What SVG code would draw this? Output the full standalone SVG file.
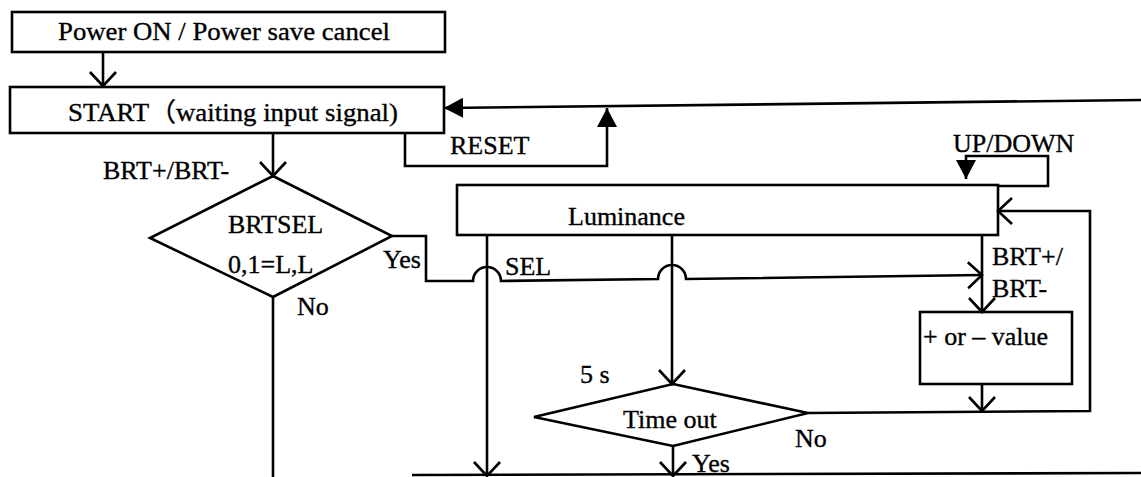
<svg xmlns="http://www.w3.org/2000/svg" width="1141" height="477" viewBox="0 0 1141 477">
<style>
.box{fill:none;stroke:#000;stroke-width:2.6}
.ln{fill:none;stroke:#000;stroke-width:2.6}
.t{font-family:"Liberation Serif","Noto Sans CJK SC",serif;font-size:26px;fill:#000;stroke:#000;stroke-width:0.35}
</style>
<defs>
<marker id="open" markerUnits="userSpaceOnUse" markerWidth="34" markerHeight="34" viewBox="-17 -17 34 34" refX="0" refY="0" orient="auto" overflow="visible">
<path d="M-14,-13 L0,0 L-14,13" fill="none" stroke="#000" stroke-width="2.6"/>
</marker>
<marker id="tri" markerUnits="userSpaceOnUse" markerWidth="30" markerHeight="30" viewBox="-20 -15 30 30" refX="0" refY="0" orient="auto" overflow="visible">
<path d="M-19,-10 L0,0 L-19,10 Z" fill="#000"/>
</marker>
</defs>
<rect width="1141" height="477" fill="#fff"/>
<g id="power">
<rect class="box" x="12" y="12" width="433" height="40"/>
<text class="t" x="58" y="40" textLength="332" lengthAdjust="spacingAndGlyphs">Power ON / Power save cancel</text>
</g>
<g id="start">
<rect class="box" x="10" y="87" width="434" height="46"/>
<text class="t" x="68" y="121" textLength="330" lengthAdjust="spacingAndGlyphs">START（waiting input signal)</text>
</g>
<g id="brtsel">
<polygon class="box" points="273,176 392,236 273,297 150,238"/>
<text class="t" x="228" y="233">BRTSEL</text>
<text class="t" x="228" y="273">0,1=L,L</text>
</g>
<g id="luminance">
<rect class="box" x="457" y="185" width="541" height="50"/>
<text class="t" x="568" y="225">Luminance</text>
</g>
<g id="value">
<rect class="box" x="920" y="312" width="152" height="72"/>
<text class="t" x="923" y="345">+ or – value</text>
</g>
<g id="timeout">
<polygon class="box" points="673,384 808,413 673,446 534,417"/>
<text class="t" x="623" y="428">Time out</text>
</g>
<g id="connectors">
<path class="ln" d="M103,52 L103,86" marker-end="url(#open)"/>
<path class="ln" d="M1141,100 L444,108" marker-end="url(#tri)"/>
<path class="ln" d="M405,133 L405,166 L607,166 L607,108" marker-end="url(#tri)"/>
<path class="ln" d="M273,133 L273,176" marker-end="url(#open)"/>
<path class="ln" d="M273,297 L273,477"/>
<path class="ln" d="M392,236 L426,236 L426,281 L473,281 A14,14 0 0 1 501,281 L658,279 A14,14 0 0 1 686,279 L982,275" marker-end="url(#open)"/>
<path class="ln" d="M982,235 L982,312" marker-end="url(#open)"/>
<path class="ln" d="M487,235 L487,476" marker-end="url(#open)"/>
<path class="ln" d="M672,235 L672,384" marker-end="url(#open)"/>
<path class="ln" d="M998,186 L1048,186 L1048,156 L966,156 L966,179" marker-end="url(#tri)"/>
<path class="ln" d="M808,413 L1090,411 L1090,211 L998,211" marker-end="url(#open)"/>
<path class="ln" d="M982,384 L982,411" marker-end="url(#open)"/>
<path class="ln" d="M673,446 L673,476" marker-end="url(#open)"/>
<path class="ln" d="M412,475 L1141,473" stroke="#222"/>
<text class="t" x="450" y="154">RESET</text>
<text class="t" x="953" y="152">UP/DOWN</text>
<text class="t" x="103" y="179">BRT+/BRT-</text>
<text class="t" x="383" y="268">Yes</text>
<text class="t" x="297" y="315">No</text>
<text class="t" x="505" y="275">SEL</text>
<text class="t" x="992" y="265">BRT+/</text>
<text class="t" x="992" y="297">BRT-</text>
<text class="t" x="580" y="383">5 s</text>
<text class="t" x="795" y="447">No</text>
<text class="t" x="692" y="472">Yes</text>
</g>
</svg>
